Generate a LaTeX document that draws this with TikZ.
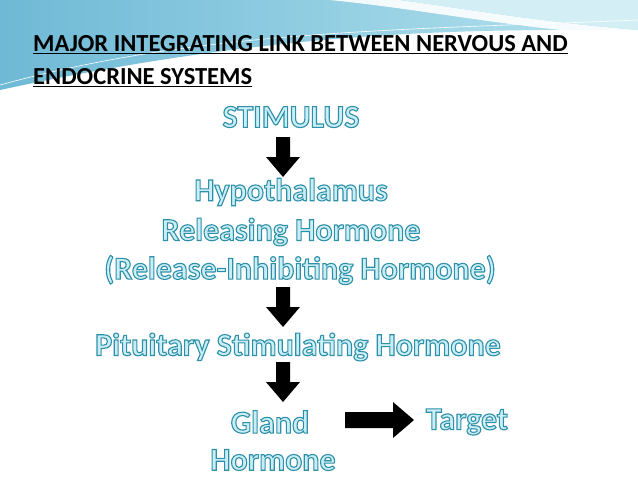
\documentclass[tikz,border=0pt]{standalone}
\usepackage{fontspec}
\setmainfont{Carlito}
\definecolor{fillc}{HTML}{C9EEF6}
\definecolor{bandA}{HTML}{6FB9D6}
\definecolor{bandB}{HTML}{B5E3EE}
\newcommand{\otext}[1]{\special{pdf:literal direct 2 Tr 1.1 w 0.18 0.56 0.66 RG}#1\special{pdf:literal direct 0 Tr}}
\begin{document}
\begin{tikzpicture}[x=1pt,y=-1pt,
  flow/.style={font=\bfseries\fontsize{32}{34}\selectfont,inner sep=0pt,text=fillc},
  title/.style={font=\bfseries\fontsize{24.5}{26}\selectfont,inner sep=0pt,anchor=west},
  blk/.style={fill=black,draw=none}]
\useasboundingbox (0,0) rectangle (638,479);
\fill[white] (0,0) rectangle (638,479);
% swoosh
\shade[left color=bandA,right color=bandB] (0,0) -- (638,0) -- (638,30) .. controls (500,30) and (300,25) .. (0,90) -- cycle;
\fill[white,opacity=0.9] (330,0) .. controls (430,10) and (520,30) .. (638,36) -- (638,30) .. controls (540,22) and (460,8) .. (400,0) -- cycle;
\fill[bandB!60!white] (400,0) .. controls (460,8) and (540,22) .. (638,30) -- (638,0) -- cycle;
\draw[white,line width=0.6pt] (0,85) .. controls (200,30) and (400,30) .. (638,20);
% title
\node[title] (t1) at (33,45) {\underline{MAJOR INTEGRATING LINK BETWEEN NERVOUS AND}};
\node[title] (t2) at (33,78) {\underline{ENDOCRINE SYSTEMS}};
% flow texts
\node[flow] (stim) at (291,117) {\otext{STIMULUS}};
\node[flow] (hyp) at (291,192) {\otext{Hypothalamus}};
\node[flow] (rel) at (291,232) {\otext{Releasing Hormone}};
\node[flow] (inh) at (300,270) {\otext{(Release-Inhibiting Hormone)}};
\node[flow] (pit) at (298,347) {\otext{Pituitary Stimulating Hormone}};
\node[flow] (gland) at (270,422) {\otext{Gland}};
\node[flow] (horm) at (273,460) {\otext{Hormone}};
\node[flow] (tgt) at (467,422) {\otext{Target}};
% arrows
\foreach \y in {137,287,362}{
  \fill[blk] (276,\y) -- (290,\y) -- (290,\y+20) -- (300,\y+20) -- (283,\y+40) -- (266,\y+20) -- (276,\y+20) -- cycle;}
\fill[blk] (345,412) -- (393,412) -- (393,402) -- (414,420) -- (393,438) -- (393,428) -- (345,428) -- cycle;
\end{tikzpicture}
\end{document}
